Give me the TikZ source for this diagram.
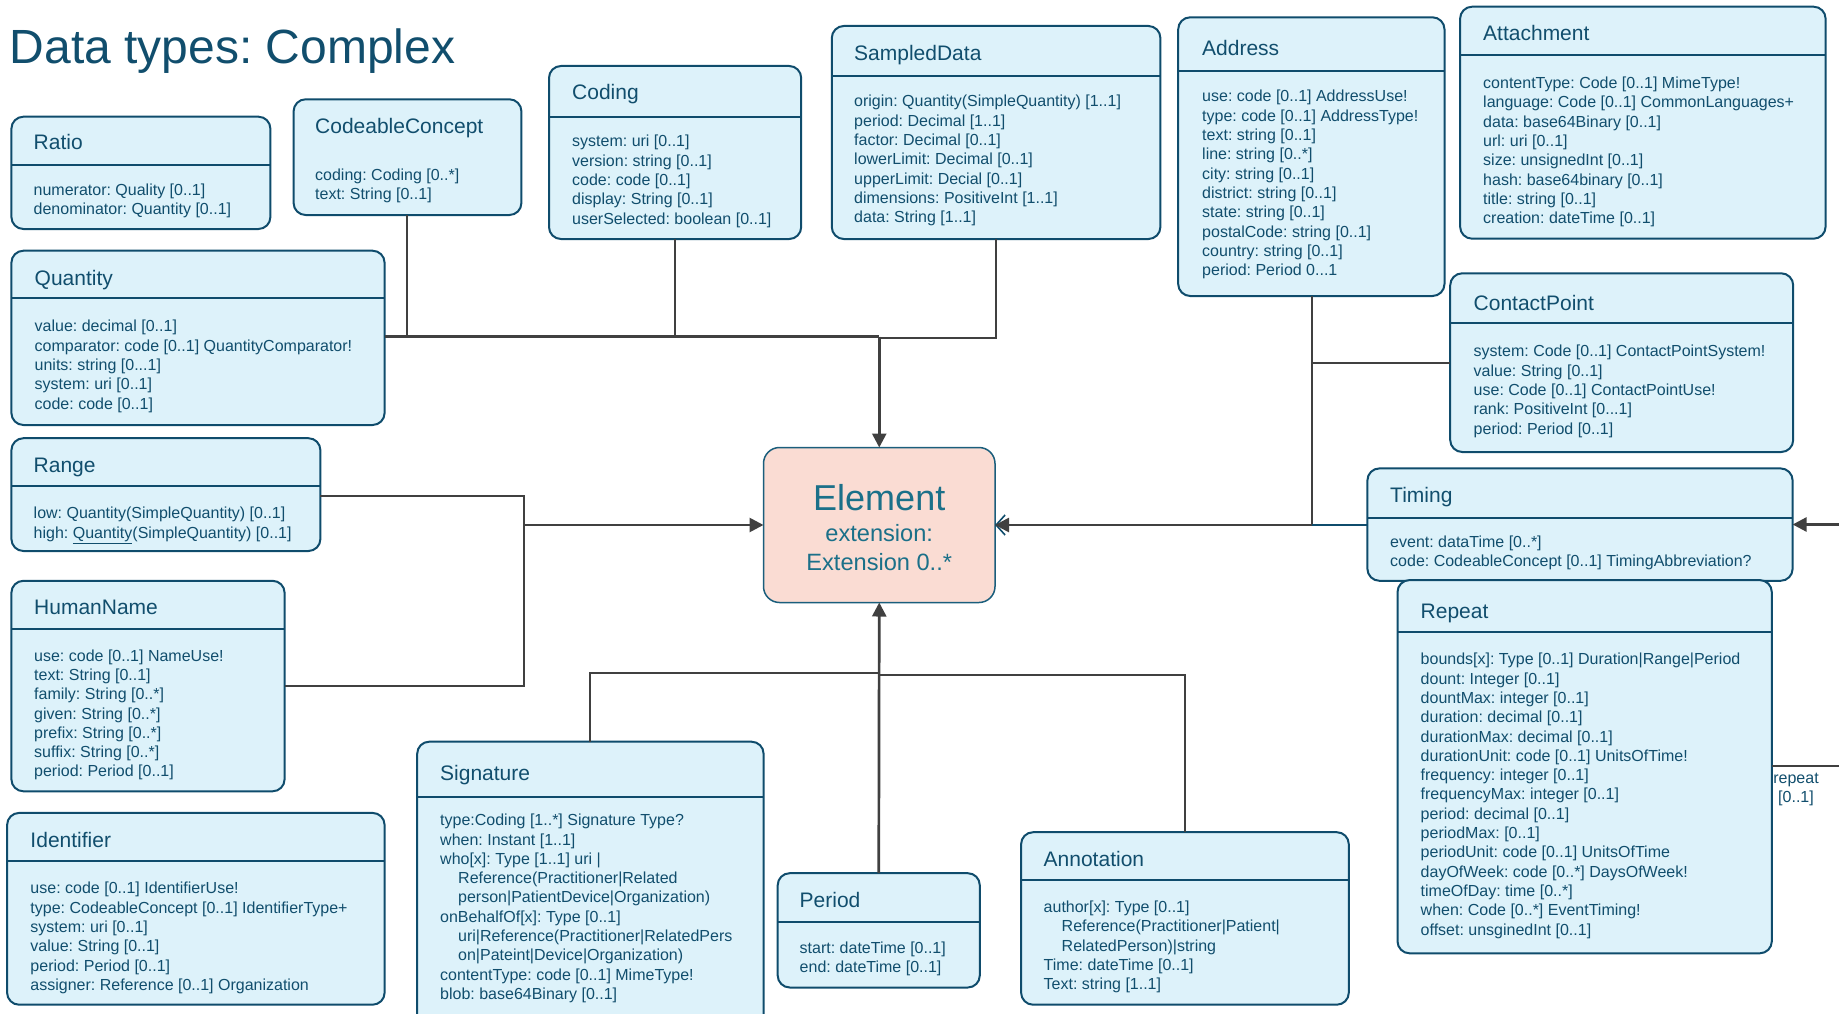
\documentclass[tikz,border=0pt]{standalone}
\usepackage{fontspec}
\setmainfont{Liberation Sans}
\usetikzlibrary{arrows.meta}

\definecolor{ink}{HTML}{114E6D}
\definecolor{frame}{HTML}{0F4C6C}
\definecolor{boxfill}{HTML}{DDF2FA}
\definecolor{elemfill}{HTML}{FADCD3}
\definecolor{elemink}{HTML}{1B7089}
\definecolor{elemframe}{HTML}{1A5E7C}
\definecolor{wirecol}{HTML}{404040}

\tikzset{
  classbox/.style={draw=frame, fill=boxfill, line width=2pt, rounded corners=12pt, inner sep=0pt, outer sep=0pt},
  classrule/.style={draw=frame, line width=2pt},
  classtitle/.style={text=ink, inner sep=0pt, font=\fontsize{21}{25}\selectfont},
  classtext/.style={text=ink, inner sep=0pt, align=left, font=\fontsize{16}{19.3}\selectfont},
  wire/.style={draw=wirecol, line width=2.7pt},
  branch/.style={draw=wirecol, line width=2.2pt},
  tip/.style={-{Triangle[length=14pt,width=14pt]}},
}

% class frame: name, left, top, right, bottom, rule y (empty = none), title x, title baseline, title
\newcommand\classframe[9]{%
  \node[classbox, minimum width={#4-#2}, minimum height={#5-#3}, anchor=north west] (#1) at (#2,#3) {};
  \ifx&#6&\else\draw[classrule] (#1.west |- 0,#6) -- (#1.east |- 0,#6);\fi
  \node[classtitle, anchor=base west] (#1-title) at (#7,#8) {#9};
}
% attribute list: name, x, first baseline, lines
\newcommand\classattrs[4]{%
  \node[classtext, anchor=north west] (#1-attrs) at (#2,{#3-13.51}) {\strut#4};
}
\newcommand\ind{\hspace*{18pt}}

\begin{document}
\frenchspacing
\begin{tikzpicture}[x=1pt,y=-1pt]
\useasboundingbox (0,0) rectangle (1839,1014);
\clip (0,0) rectangle (1839,1014);

\node[anchor=base west, inner sep=0pt, text=ink, font=\fontsize{48}{57}\selectfont] (heading) at (9.5,63.3) {Data types: Complex};

% ---------- connectors ----------
\coordinate (jcc)  at (407,336.7);
\coordinate (jcod) at (674.7,336.7);
\coordinate (jtop) at (879.25,336.7);
\coordinate (jsd)  at (996,338.3);
\coordinate (jrng) at (524.3,495.9);
\coordinate (jhn)  at (524.3,685.9);
\coordinate (jleft) at (524.3,525);
\coordinate (jsig) at (590.2,672.8);
\coordinate (jbot) at (879.25,672.8);
\coordinate (jann) at (1184.9,674.7);
\coordinate (jadr) at (1311.6,525);
\coordinate (jcp)  at (1311.6,362.7);
\coordinate (edgeT) at (1839,524.5);
\coordinate (edgeR) at (1839,766.3);

% ---------- classes ----------
\classframe{ratio}{11.4}{116.7}{270.4}{229}{165}{33.5}{149.3}{Ratio}
\classattrs{ratio}{33.5}{195}{numerator: Quality [0..1]\\denominator: Quantity [0..1]}

\classframe{ccon}{293.6}{99.3}{521.4}{215}{}{315}{133.3}{CodeableConcept}
\classattrs{ccon}{315}{180}{coding: Coding [0..*]\\text: String [0..1]}

\classframe{coding}{549}{66}{801.2}{239}{116.7}{572}{100}{Coding}
\classattrs{coding}{572}{146.7}{system: uri [0..1]\\version: string [0..1]\\code: code [0..1]\\display: String [0..1]\\userSelected: boolean [0..1]}

\classframe{sampled}{831.8}{26}{1160.4}{239}{76}{854}{61}{SampledData}
\classattrs{sampled}{854}{106.7}{origin: Quantity(SimpleQuantity) [1..1]\\period: Decimal [1..1]\\factor: Decimal [0..1]\\lowerLimit: Decimal [0..1]\\upperLimit: Decial [0..1]\\dimensions: PositiveInt [1..1]\\data: String [1..1]}

\classframe{address}{1178.2}{17.3}{1444.5}{296}{70.7}{1202}{56}{Address}
\classattrs{address}{1202}{101.7}{use: code [0..1] AddressUse!\\type: code [0..1] AddressType!\\text: string [0..1]\\line: string [0..*]\\city: string [0..1]\\district: string [0..1]\\state: string [0..1]\\postalCode: string [0..1]\\country: string [0..1]\\period: Period 0...1}

\classframe{attach}{1460.1}{6.7}{1825.6}{238.7}{55.3}{1483}{41}{Attachment}
\classattrs{attach}{1483}{88.3}{contentType: Code [0..1] MimeType!\\language: Code [0..1] CommonLanguages+\\data: base64Binary [0..1]\\url: uri [0..1]\\size: unsignedInt [0..1]\\hash: base64binary [0..1]\\title: string [0..1]\\creation: dateTime [0..1]}

\classframe{quantity}{11.4}{250.7}{384.6}{425}{297.7}{34.5}{285}{Quantity}
\classattrs{quantity}{34.5}{331.7}{value: decimal [0..1]\\comparator: code [0..1] QuantityComparator!\\units: string [0...1]\\system: uri [0..1]\\code: code [0..1]}

\classframe{contact}{1450.2}{273.3}{1793.2}{452}{323.3}{1473.5}{310}{ContactPoint}
\classattrs{contact}{1473.5}{356.7}{system: Code [0..1] ContactPointSystem!\\value: String [0..1]\\use: Code [0..1] ContactPointUse!\\rank: PositiveInt [0...1]\\period: Period [0..1]}

\classframe{range}{11.4}{438.2}{320.4}{551}{485.9}{33.5}{472.8}{Range}
\classattrs{range}{33.5}{518.6}{low: Quantity(SimpleQuantity) [0..1]\\high: \underline{Quantity}(SimpleQuantity) [0..1]}

\classframe{humanname}{11.4}{580.8}{284.6}{791.3}{629.3}{34}{614.4}{HumanName}
\classattrs{humanname}{34}{660.9}{use: code [0..1] NameUse!\\text: String [0..1]\\family: String [0..*]\\given: String [0..*]\\prefix: String [0..*]\\suffix: String [0..*]\\period: Period [0..1]}

\classframe{identifier}{7.1}{812.9}{384.6}{1004.7}{860.9}{30.3}{847.1}{Identifier}
\classattrs{identifier}{30.3}{893.7}{use: code [0..1] IdentifierUse!\\type: CodeableConcept [0..1] IdentifierType+\\system: uri [0..1]\\value: String [0..1]\\period: Period [0..1]\\assigner: Reference [0..1] Organization}

\classframe{signature}{417.2}{741.7}{763.6}{1040}{796.8}{440}{780}{Signature}
\classattrs{signature}{440}{825.5}{type:Coding [1..*] Signature Type?\\when: Instant [1..1]\\who[x]: Type [1..1] uri |\\\ind Reference(Practitioner|Related\\\ind person|PatientDevice|Organization)\\onBehalfOf[x]: Type [0..1]\\\ind uri|Reference(Practitioner|RelatedPers\\\ind on|Pateint|Device|Organization)\\contentType: code [0..1] MimeType!\\blob: base64Binary [0..1]}

\classframe{period}{777.7}{873.2}{979.8}{987.5}{921.6}{799.5}{907.5}{Period}
\classattrs{period}{799.5}{953.3}{start: dateTime [0..1]\\end: dateTime [0..1]}

\classframe{annotation}{1021.1}{832.2}{1348.8}{1004.7}{879.9}{1043.5}{866.5}{Annotation}
\classattrs{annotation}{1043.5}{912.3}{author[x]: Type [0..1]\\\ind Reference(Practitioner|Patient|\\\ind RelatedPerson)|string\\Time: dateTime [0..1]\\Text: string [1..1]}

\classframe{timing}{1367.4}{468.4}{1792.6}{580.8}{518.3}{1390}{502.6}{Timing}
\classattrs{timing}{1390}{547.3}{event: dataTime [0..*]\\code: CodeableConcept [0..1] TimingAbbreviation?}

\classframe{repeat}{1397.5}{580.1}{1771.8}{953.3}{632.2}{1420.5}{618}{Repeat}
\classattrs{repeat}{1420.5}{664.6}{bounds[x]: Type [0..1] Duration|Range|Period\\dount: Integer [0..1]\\dountMax: integer [0..1]\\duration: decimal [0..1]\\durationMax: decimal [0..1]\\durationUnit: code [0..1] UnitsOfTime!\\frequency: integer [0..1]\\frequencyMax: integer [0..1]\\period: decimal [0..1]\\periodMax: [0..1]\\periodUnit: code [0..1] UnitsOfTime\\dayOfWeek: code [0..*] DaysOfWeek!\\timeOfDay: time [0..*]\\when: Code [0..*] EventTiming!\\offset: unsginedInt [0..1]}

% ---------- the base class ----------
\node[draw=elemframe, fill=elemfill, line width=1.5pt, rounded corners=16pt, inner sep=0pt, outer sep=0pt,
      minimum width=231.5, minimum height=155, anchor=north west] (element) at (763.5,447.5) {};
\node[anchor=base, inner sep=0pt, text=elemink, font=\fontsize{36}{43}\selectfont] (element-name) at (879.25,510) {Element};
\node[anchor=base, inner sep=0pt, text=elemink, font=\fontsize{23.6}{28}\selectfont] (element-ext) at (879.25,541.7) {extension:};
\node[anchor=base, inner sep=0pt, text=elemink, font=\fontsize{23.6}{28}\selectfont] (element-type) at (879.25,570.7) {Extension 0..*};

% top group
\draw[branch] (jcc |- ccon.south) -- (jcc);
\draw[branch] (jcod |- coding.south) -- (jcod);
\draw[wire] (quantity.east |- jtop) -- (jtop);
\draw[branch] (jsd |- sampled.south) -- (jsd) -- (jtop |- jsd);
\draw[wire,tip] (jtop) -- (element.north);

% left group
\draw[branch] (range.east |- jrng) -- (jrng) -- (jhn) -- (humanname.east |- jhn);
\draw[wire,tip] (jleft) -- (element.west);

% bottom group
\draw[branch] (jsig |- signature.north) -- (jsig) -- (jbot);
\draw[branch] (jann |- annotation.north) -- (jann) -- (jbot |- jann);
\draw[wire,tip] (period.north) -- (element.south);

% right group
\draw[branch] (jadr |- address.south) -- (jadr);
\draw[branch] (contact.west |- jcp) -- (jcp);
\draw[draw=frame, line width=1.6pt, -{Straight Barb[length=9pt,width=20pt]}] (timing.west |- jadr) -- (element.east);
\draw[wire,tip] (jadr) -- (element.east);

% self association of the timing repeat
\draw[wire,tip] (edgeT) -- (timing.east |- edgeT);
\draw[branch] (repeat.east |- edgeR) -- (edgeR);
\node[anchor=north, inner sep=0pt, align=center, text=ink, font=\fontsize{16}{19.3}\selectfont] (repeat-role) at (1796,{783-13.51}) {\strut repeat\\{}[0..1]};

\end{tikzpicture}
\end{document}
